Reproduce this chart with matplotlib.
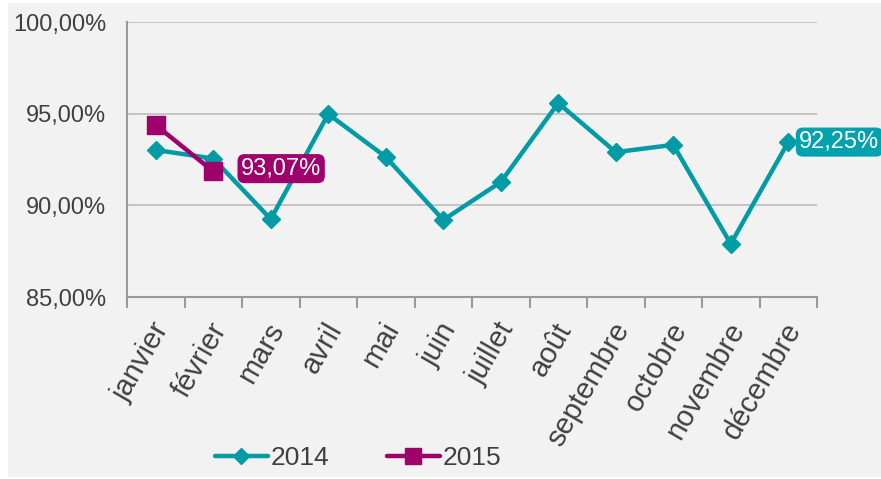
import matplotlib.pyplot as plt
from matplotlib.patches import Rectangle
from matplotlib.ticker import FuncFormatter
import numpy as np

plt.rcParams['font.family'] = ['Liberation Sans', 'DejaVu Sans']

# data
mois = ["janvier", "février", "mars", "avril", "mai", "juin", "juillet",
        "août", "septembre", "octobre", "novembre", "décembre"]
val_2014 = [93.02, 92.55, 89.25, 94.98, 92.64, 89.2, 91.27, 95.58, 92.9, 93.3, 87.9, 93.45]
val_2015 = [94.38, 91.85]
label_2014 = "92,25%"
label_2015 = "93,07%"

teal = "#009ba5"
magenta = "#a0006b"
txt = "#404040"

fig = plt.figure(figsize=(8.81, 4.79), dpi=100, facecolor="white")
fig.patches.append(Rectangle((8 / 881, 2 / 479), 1, 474 / 479, transform=fig.transFigure,
                             facecolor="#f2f2f2", edgecolor="none", zorder=-10))

ax = fig.add_axes([127 / 881, 1 - 297 / 479, 690 / 881, 275 / 479])
ax.set_facecolor("#f2f2f2")

x = np.arange(len(mois))
ax.plot(x, val_2014, color=teal, lw=3.2, marker="D", ms=9, label="2014",
        solid_capstyle="round", zorder=3)
ax.plot(x[:len(val_2015)], val_2015, color=magenta, lw=3.2, marker="s", ms=13,
        label="2015", solid_capstyle="round", zorder=4)

ax.set_xlim(-0.5, len(mois) - 0.5)
ax.set_ylim(85, 100)
ax.set_yticks([85, 90, 95, 100])
ax.yaxis.set_major_formatter(FuncFormatter(lambda v, p: f"{v:.2f}%".replace(".", ",")))
ax.grid(axis="y", color="#bcbcbc", lw=1.2)
ax.set_axisbelow(True)

for s in ["top", "right"]:
    ax.spines[s].set_visible(False)
for s in ["left", "bottom"]:
    ax.spines[s].set_color("#9a9a9a")
    ax.spines[s].set_linewidth(1.5)

ax.set_xticks(np.arange(len(mois) + 1) - 0.5)
ax.set_xticklabels([])
ax.set_xticks(x + 0.12, minor=True)
ax.set_xticklabels(mois, minor=True, rotation=60, ha="right", va="center",
                   rotation_mode="anchor", fontsize=21, color=txt)
ax.tick_params(axis="x", which="major", length=8, width=1.5, color="#9a9a9a", direction="out")
ax.tick_params(axis="x", which="minor", length=0, pad=20)
ax.tick_params(axis="y", length=0, labelsize=17, labelcolor=txt, pad=15)

# data labels
ax.annotate(label_2015, (1, val_2015[1]), xytext=(20, 2), textcoords="offset points",
            ha="left", va="center", fontsize=17, color="white", zorder=6,
            bbox=dict(boxstyle="round,pad=0.15,rounding_size=0.3", fc=magenta, ec="none"))
ax.annotate(label_2014, (11, val_2014[11]), xytext=(8, 0), textcoords="offset points",
            ha="left", va="center", fontsize=17, color="white", zorder=6,
            annotation_clip=False,
            bbox=dict(boxstyle="round,pad=0.15,rounding_size=0.3", fc="#00a2ad", ec="none"))

fig.legend(loc="center", bbox_to_anchor=(358 / 881, 1 - 458 / 479), ncol=2, frameon=False,
           fontsize=19, labelcolor=txt, handlelength=2.0, handletextpad=0.1,
           columnspacing=2.2, markerscale=0.9)

fig.savefig("out.png", dpi=100, facecolor=fig.get_facecolor())
